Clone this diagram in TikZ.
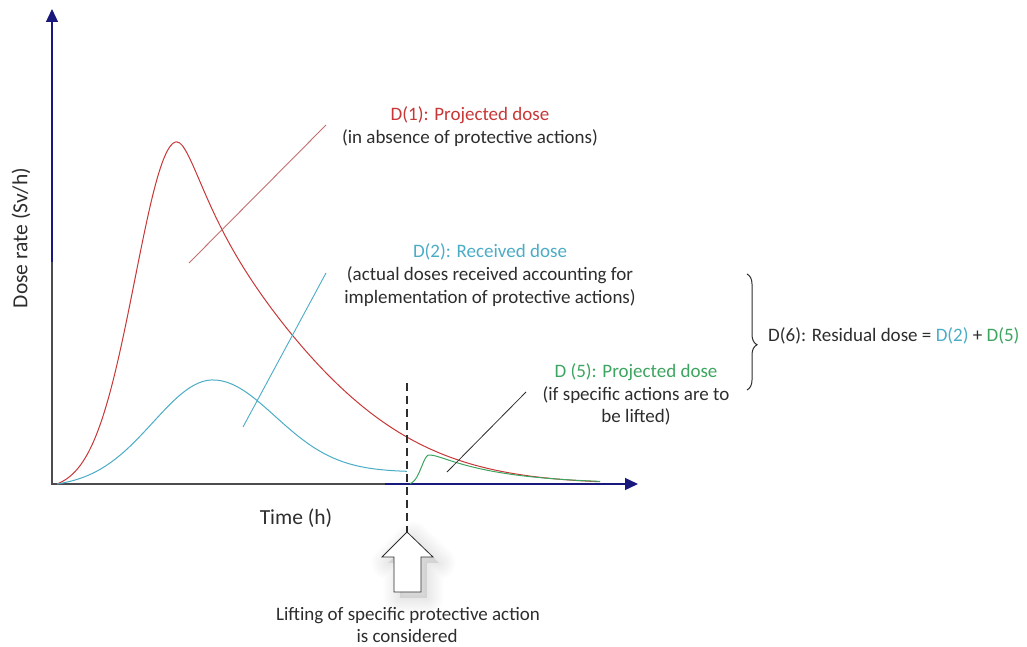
\documentclass[tikz,border=0pt]{standalone}
\usepackage{fontspec}
\setmainfont{Carlito}
\usetikzlibrary{arrows.meta,decorations.pathreplacing}

\definecolor{dosered}{RGB}{200,55,55}
\definecolor{doseblue}{RGB}{75,172,198}
\definecolor{dosegreen}{RGB}{60,165,95}
\definecolor{inktext}{RGB}{45,45,45}
\definecolor{axisnavy}{RGB}{25,25,125}
\definecolor{axisgray}{RGB}{75,75,80}
\definecolor{leaderred}{RGB}{195,110,110}

\tikzset{
  axisline/.style={draw=axisnavy, line width=1.3pt, -{Triangle[length=13pt,width=12pt]}},
  curve/.style={line width=1pt, line join=round},
  leader/.style={line width=0.9pt},
  lbl/.style={inner sep=0pt, text=inktext, align=center, font=\fontsize{19}{23}\selectfont},
  axlbl/.style={lbl, font=\fontsize{21.5}{25}\selectfont},
}

\begin{document}
\begin{tikzpicture}[x=1pt, y=-1pt]
\useasboundingbox (0,0) rectangle (1027,647);

% axes
\coordinate (O) at (52,484);
\coordinate (Ytip) at (52,9);
\coordinate (Xtip) at (638,484);
\draw[axisline] (O) -- (Ytip);
\draw[axisline] (O) -- (Xtip);
\coordinate (Lup) at (52,262);
\coordinate (Lright) at (385,484);
\draw[axisgray, line width=1.3pt] (Lup) -- (O) -- (Lright);

% projected dose without protective actions: fast rise, long tail
\draw[dosered, curve]
  plot[domain=57:177, samples=80]
    (\x, {484-348*(exp(-((\x-177)/10)*((\x-177)/10)/35.28)-0.0168)})
  -- plot[domain=177:600, samples=160]
    (\x, {484-342*exp(-((0.0043*(\x-177)+0.42*(1-exp(-(\x-177)/25)))^2))});

% received dose: lower peak, settling on a plateau
\draw[doseblue, curve]
  plot[domain=57:213, samples=80]
    (\x, {484-107.7*(exp(-((\x-213)/10)*((\x-213)/10)/72)-0.034)})
  -- plot[domain=213:407, samples=100]
    (\x, {472-92*exp(-((\x-213)/10)*((\x-213)/10)/76.88)});

% projected dose once the action is lifted
\draw[dosegreen, curve]
  plot[domain=410:429, samples=30]
    (\x, {484-29.75*(exp(-((\x-429)/10)*((\x-429)/10)/1.1)-0.025)})
  -- plot[domain=429:600, samples=90]
    (\x, {484-29*exp(-0.147*(10*sqrt(((\x-429)/10)*((\x-429)/10)+0.64)-8)/10)});

% time of lifting
\coordinate (Ltop) at (407,383);
\coordinate (Lbot) at (407,532);
\draw[inktext, line width=1.2pt, dash pattern=on 8pt off 5pt] (Ltop) -- (Lbot);

% block arrow with soft shadow
\foreach \w in {3,6,...,33}{
  \filldraw[black, opacity=0.009, line width=\w pt, line join=round] [shift={(6,6)}]
    (407,532) -- (433,557) -- (421,557) -- (421,592) -- (394,592) -- (394,557) -- (382,557) -- cycle;
}
\filldraw[fill=white, draw=inktext, line width=0.8pt]
  (407,532) -- (433,557) -- (421,557) -- (421,592) -- (394,592) -- (394,557) -- (382,557) -- cycle;

% labels
\node[lbl, text=dosered] (d1a) at (470,115) {D(1): Projected dose};
\node[lbl] (d1b) at (470,138) {(in absence of protective actions)};
\node[lbl, text=doseblue] (d2a) at (490,252) {D(2): Received dose};
\node[lbl] (d2b) at (490,275) {(actual doses received accounting for};
\node[lbl] (d2c) at (490,298) {implementation of protective actions)};
\node[lbl, text=dosegreen] (d5a) at (636,372) {D (5): Projected dose};
\node[lbl] (d5b) at (636,395) {(if specific actions are to};
\node[lbl] (d5c) at (636,417) {be lifted)};
\node[lbl, anchor=west] (d6) at (768,336) {D(6): Residual dose = \textcolor{doseblue}{D(2)} + \textcolor{dosegreen}{D(5)}};
\node[axlbl] (time) at (296,518) {Time (h)};
\node[axlbl, rotate=90] (rate) at (21,238) {Dose rate (Sv/h)};
\node[lbl] (lift1) at (408,616) {Lifting of specific protective action};
\node[lbl] (lift2) at (407,636) {is considered};

% leader lines
\coordinate (r1) at (189,263); \coordinate (r2) at (326,125);
\draw[leaderred, leader] (r1) -- (r2);
\coordinate (b1) at (243,427); \coordinate (b2) at (326,273);
\draw[doseblue, leader] (b1) -- (b2);
\coordinate (g1) at (447,472); \coordinate (g2) at (526,392);
\draw[inktext, leader, line width=0.8pt] (g1) -- (g2);

% residual dose brace
\coordinate (bt) at (747,274);
\coordinate (bb) at (747,390);
\draw[inktext, line width=1pt, decorate, decoration={brace, amplitude=10pt, aspect=0.61}] (bt) -- (bb);
\end{tikzpicture}
\end{document}
